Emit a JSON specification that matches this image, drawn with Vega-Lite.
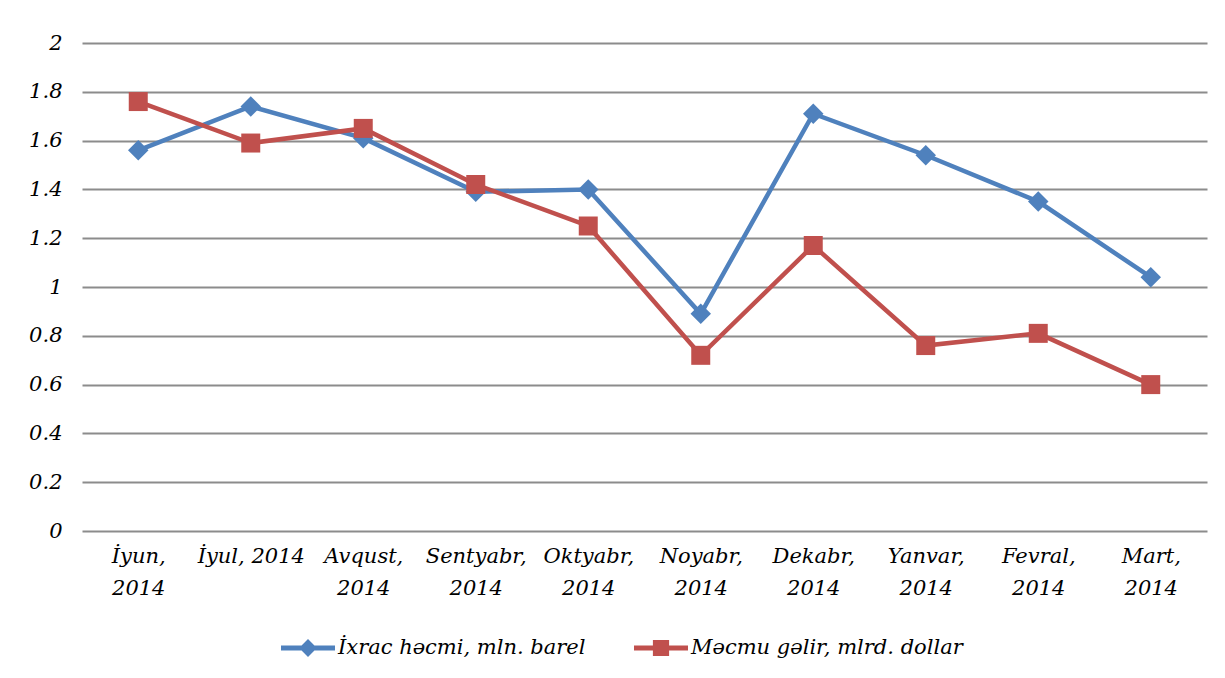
{
  "$schema": "https://vega.github.io/schema/vega-lite/v6.json",
  "width": 1125,
  "height": 488,
  "autosize": {"type": "none"},
  "padding": {"left": 82, "top": 43, "right": 18, "bottom": 147},
  "background": "white",
  "config": {"view": {"stroke": null}, "font": "DejaVu Serif"},
  "data": {
    "values": [
      {"month": "İyun, 2014", "series": "İxrac həcmi, mln. barel", "value": 1.56},
      {"month": "İyul, 2014", "series": "İxrac həcmi, mln. barel", "value": 1.74},
      {"month": "Avqust, 2014", "series": "İxrac həcmi, mln. barel", "value": 1.61},
      {"month": "Sentyabr, 2014", "series": "İxrac həcmi, mln. barel", "value": 1.39},
      {"month": "Oktyabr, 2014", "series": "İxrac həcmi, mln. barel", "value": 1.40},
      {"month": "Noyabr, 2014", "series": "İxrac həcmi, mln. barel", "value": 0.89},
      {"month": "Dekabr, 2014", "series": "İxrac həcmi, mln. barel", "value": 1.71},
      {"month": "Yanvar, 2014", "series": "İxrac həcmi, mln. barel", "value": 1.54},
      {"month": "Fevral, 2014", "series": "İxrac həcmi, mln. barel", "value": 1.35},
      {"month": "Mart, 2014", "series": "İxrac həcmi, mln. barel", "value": 1.04},
      {"month": "İyun, 2014", "series": "Məcmu gəlir, mlrd. dollar", "value": 1.76},
      {"month": "İyul, 2014", "series": "Məcmu gəlir, mlrd. dollar", "value": 1.59},
      {"month": "Avqust, 2014", "series": "Məcmu gəlir, mlrd. dollar", "value": 1.65},
      {"month": "Sentyabr, 2014", "series": "Məcmu gəlir, mlrd. dollar", "value": 1.42},
      {"month": "Oktyabr, 2014", "series": "Məcmu gəlir, mlrd. dollar", "value": 1.25},
      {"month": "Noyabr, 2014", "series": "Məcmu gəlir, mlrd. dollar", "value": 0.72},
      {"month": "Dekabr, 2014", "series": "Məcmu gəlir, mlrd. dollar", "value": 1.17},
      {"month": "Yanvar, 2014", "series": "Məcmu gəlir, mlrd. dollar", "value": 0.76},
      {"month": "Fevral, 2014", "series": "Məcmu gəlir, mlrd. dollar", "value": 0.81},
      {"month": "Mart, 2014", "series": "Məcmu gəlir, mlrd. dollar", "value": 0.60}
    ]
  },
  "encoding": {
    "x": {
      "field": "month",
      "type": "ordinal",
      "sort": null,
      "axis": {
        "title": null,
        "labelAngle": 0,
        "domain": false,
        "ticks": false,
        "grid": false,
        "labelFont": "DejaVu Serif",
        "labelFontStyle": "italic",
        "labelFontSize": 21,
        "labelColor": "black",
        "labelPadding": 14,
        "labelLineHeight": 32,
        "labelLimit": 0,
        "labelExpr": "datum.value == 'İyul, 2014' ? datum.value : split(datum.value, ' ')"
      }
    },
    "y": {
      "field": "value",
      "type": "quantitative",
      "scale": {"domain": [0, 2]},
      "axis": {
        "title": null,
        "values": [0, 0.2, 0.4, 0.6, 0.8, 1, 1.2, 1.4, 1.6, 1.8, 2],
        "format": "~g",
        "domain": false,
        "ticks": false,
        "grid": true,
        "gridColor": "#8C8C8C",
        "gridWidth": 2,
        "labelPadding": 20,
        "labelFont": "DejaVu Serif",
        "labelFontStyle": "italic",
        "labelFontSize": 21,
        "labelColor": "black"
      }
    },
    "color": {
      "field": "series",
      "type": "nominal",
      "scale": {
        "domain": ["İxrac həcmi, mln. barel", "Məcmu gəlir, mlrd. dollar"],
        "range": ["#4F81BD", "#C0504D"]
      },
      "legend": {
        "title": null,
        "orient": "none",
        "direction": "horizontal",
        "legendX": 199,
        "legendY": 578,
        "labelFont": "DejaVu Serif",
        "labelFontStyle": "italic",
        "labelFontSize": 21,
        "labelColor": "black",
        "labelOffset": 3,
        "labelLimit": 0,
        "columnPadding": 48,
        "symbolSize": 2916,
        "symbolStrokeWidth": 0,
        "symbolOpacity": 1,
        "encode": {
          "symbols": {
            "update": {
              "shape": {"signal": "datum.value === 'İxrac həcmi, mln. barel' ? 'M-1,-0.09L1,-0.09L1,0.09L-1,0.09ZM0,-0.33L0.33,0L0,0.33L-0.33,0Z' : 'M-1,-0.09L1,-0.09L1,0.09L-1,0.09ZM-0.3,-0.3L0.3,-0.3L0.3,0.3L-0.3,0.3Z'"},
              "fill": {"signal": "datum.value === 'İxrac həcmi, mln. barel' ? '#4F81BD' : '#C0504D'"},
              "strokeWidth": {"value": 0},
              "opacity": {"value": 1}
            }
          }
        }
      }
    }
  },
  "layer": [
    {"mark": {"type": "line", "strokeWidth": 4.5}},
    {
      "transform": [{"filter": "datum.series === 'İxrac həcmi, mln. barel'"}],
      "mark": {"type": "point", "filled": true, "opacity": 1, "shape": "diamond", "size": 420}
    },
    {
      "transform": [{"filter": "datum.series === 'Məcmu gəlir, mlrd. dollar'"}],
      "mark": {"type": "point", "filled": true, "opacity": 1, "shape": "square", "size": 361}
    }
  ]
}
